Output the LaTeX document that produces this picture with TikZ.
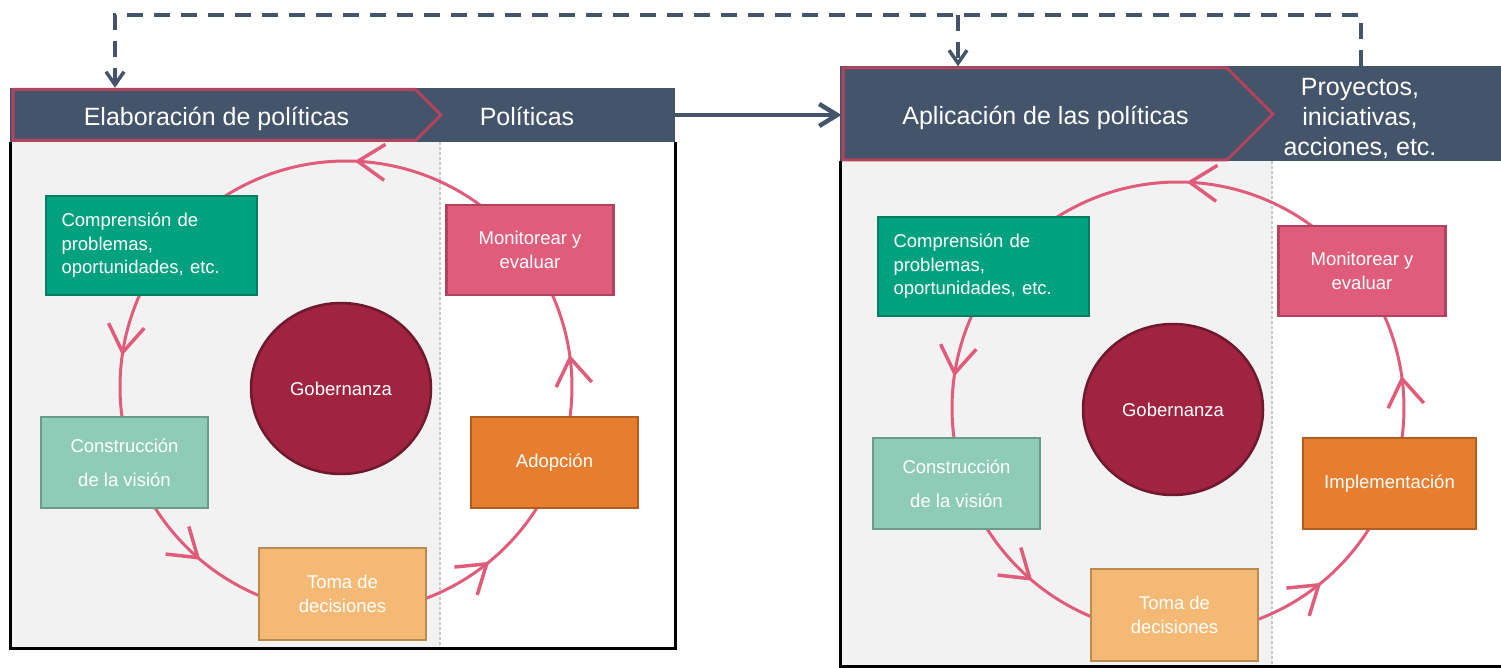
\documentclass[tikz,border=0pt]{standalone}
\usepackage{fontspec}
\setmainfont{Liberation Sans}
\usepackage{tikz}
\usetikzlibrary{positioning,arrows.meta,shapes.symbols,shapes.geometric,decorations.markings}
\definecolor{colorband}    {RGB}{68,84,106}
\definecolor{colorchev}    {RGB}{178,68,94}
\definecolor{colorbody}    {RGB}{242,242,242}
\definecolor{colorsep}     {RGB}{200,200,200}
\definecolor{colorring}    {RGB}{224,92,123}
\definecolor{colorcomp}    {RGB}{0,161,127}
\definecolor{colorcompline}{RGB}{0,128,96}
\definecolor{colormon}     {RGB}{224,92,123}
\definecolor{colormonline} {RGB}{176,68,94}
\definecolor{colorgob}     {RGB}{160,35,64}
\definecolor{colorgobline} {RGB}{110,25,45}
\definecolor{colorcons}    {RGB}{142,204,183}
\definecolor{colorconsline}{RGB}{106,156,138}
\definecolor{coloradop}    {RGB}{231,125,46}
\definecolor{coloradopline}{RGB}{178,94,32}
\definecolor{colortoma}    {RGB}{244,185,116}
\definecolor{colortomaline}{RGB}{185,139,80}

\begin{document}
\begin{tikzpicture}[
    x=1pt, y=-1pt,
    font={\fontsize{18.5}{23.5}\selectfont},
    band/.style={rectangle,fill=colorband,inner sep=0pt},
    chevron/.style={signal,signal to=east,signal pointer angle=90,fill=colorband,draw=colorchev,line width=3pt,inner sep=0pt,anchor=west},
    headtext/.style={text=white,font={\fontsize{25}{30}\selectfont},align=center},
    stage/.style={rectangle,line width=2.5pt,text=white,align=center,inner sep=0pt,minimum width=167pt,minimum height=91pt},
    governance/.style={ellipse,fill=colorgob,draw=colorgobline,line width=2.5pt,text=white,inner sep=0pt,minimum width=180pt,minimum height=171pt},
    ring/.style={color=colorring,line width=3pt,postaction={decorate},
        decoration={markings,mark=at position 0.5 with {\arrow[line width=3.5pt]{Straight Barb[length=27pt,width=36pt]}}}},
    flow/.style={draw=colorband,line width=4.5pt,-{Straight Barb[length=18pt,width=22pt]}},
    feedback/.style={draw=colorband,line width=3.5pt,dash pattern=on 16pt off 11pt,-{Straight Barb[length=13pt,width=18pt]}},
    divider/.style={draw=colorsep,line width=2pt,dash pattern=on 3pt off 2pt},
]
    \useasboundingbox (0,0) rectangle (1501,668);

    % Panel bodies
    \fill[colorbody] (10,142) rectangle (440,648);
    \draw[divider] (440,142) -- (440,648);
    \draw[line width=3pt] (10,142) -- (10,648) -- (675,648) -- (675,142);

    \fill[colorbody] (840,161) rectangle (1272,666);
    \draw[divider] (1272,161) -- (1272,666);
    \draw[line width=3pt] (840,161) -- (840,666) -- (1510,666);

    % Headers
    \node[band, minimum width=665pt, minimum height=54pt] (hdr1) at (342.5,115) {};
    \node[chevron, minimum width=428pt, minimum height=51pt] (elab1) at (11.5,115) {};
    \node[headtext] (elabtxt1) at (216.5,118.5) {Elaboración de políticas};
    \node[headtext] (poltxt1) at (527,116) {Políticas};

    \node[band, minimum width=670pt, minimum height=95pt] (hdr2) at (1175,114) {};
    \node[chevron, minimum width=430pt, minimum height=92pt] (apl2) at (841.5,114) {};
    \node[headtext] (apltxt2) at (1045.5,117.5) {Aplicación de las políticas};
    \node[headtext] (proytxt2) at (1360,119) {Proyectos,\\iniciativas,\\acciones, etc.};

    % Policy cycle
    \coordinate (ring1) at (346,387);
    \draw[ring] (ring1) ++(208:226) arc[start angle=208, end angle=168, radius=226];
    \draw[ring] (ring1) ++(151.6:226) arc[start angle=151.6, end angle=108.7, radius=226];
    \draw[ring] (ring1) ++(73:226) arc[start angle=73, end angle=28.4, radius=226];
    \draw[ring] (ring1) ++(11.6:226) arc[start angle=11.6, end angle=-28, radius=226];
    \draw[ring] (ring1) ++(-49.6:226) arc[start angle=-49.6, end angle=-126, radius=226];

    \node[stage, fill=colorcomp, draw=colorcompline, minimum width=211pt, minimum height=99pt, text width=180pt, align=left] (comp1) at (151.5,245.5) {Comprensión de\\problemas,\\oportunidades, etc.};
    \node[stage, fill=colormon, draw=colormonline, minimum height=90pt] (mon1) at (530,250) {Monitorear y\\evaluar};
    \node[governance] (gob1) at (341,388.5) {Gobernanza};
    \node[stage, fill=colorcons, draw=colorconsline] (cons1) at (124.5,462.5) {Construcción\\[10.5pt]de la visión};
    \node[stage, fill=coloradop, draw=coloradopline] (adop1) at (554.5,462.5) {Adopción};
    \node[stage, fill=colortoma, draw=colortomaline, minimum height=92pt] (toma1) at (342.5,594) {Toma de\\decisiones};

    % Application cycle
    \begin{scope}[shift={(832,21)}]
    \coordinate (ring2) at (346,387);
    \draw[ring] (ring2) ++(208:226) arc[start angle=208, end angle=168, radius=226];
    \draw[ring] (ring2) ++(151.6:226) arc[start angle=151.6, end angle=108.7, radius=226];
    \draw[ring] (ring2) ++(73:226) arc[start angle=73, end angle=28.4, radius=226];
    \draw[ring] (ring2) ++(11.6:226) arc[start angle=11.6, end angle=-28, radius=226];
    \draw[ring] (ring2) ++(-49.6:226) arc[start angle=-49.6, end angle=-126, radius=226];

    \node[stage, fill=colorcomp, draw=colorcompline, minimum width=211pt, minimum height=99pt, text width=180pt, align=left] (comp2) at (151.5,245.5) {Comprensión de\\problemas,\\oportunidades, etc.};
    \node[stage, fill=colormon, draw=colormonline, minimum height=90pt] (mon2) at (530,250) {Monitorear y\\evaluar};
    \node[governance] (gob2) at (341,388.5) {Gobernanza};
    \node[stage, fill=colorcons, draw=colorconsline] (cons2) at (124.5,462.5) {Construcción\\[10.5pt]de la visión};
    \node[stage, fill=coloradop, draw=coloradopline, minimum width=173pt] (impl2) at (557.5,462.5) {Implementación};
    \node[stage, fill=colortoma, draw=colortomaline, minimum height=92pt] (toma2) at (342.5,594) {Toma de\\decisiones};
    \end{scope}

    % Links between the panels
    \draw[flow] (hdr1.east) -- (hdr1.east -| apl2.west);

    \coordinate (loopL) at (115,15);
    \coordinate (loopM) at (958,15);
    \coordinate (loopR) at (1361,15);
    \draw[feedback] (loopR |- hdr2.north) -- (loopR) -- (loopL) -- (loopL |- hdr1.north);
    \draw[feedback] (loopM) -- (loopM |- hdr2.north);

\end{tikzpicture}
\end{document}
